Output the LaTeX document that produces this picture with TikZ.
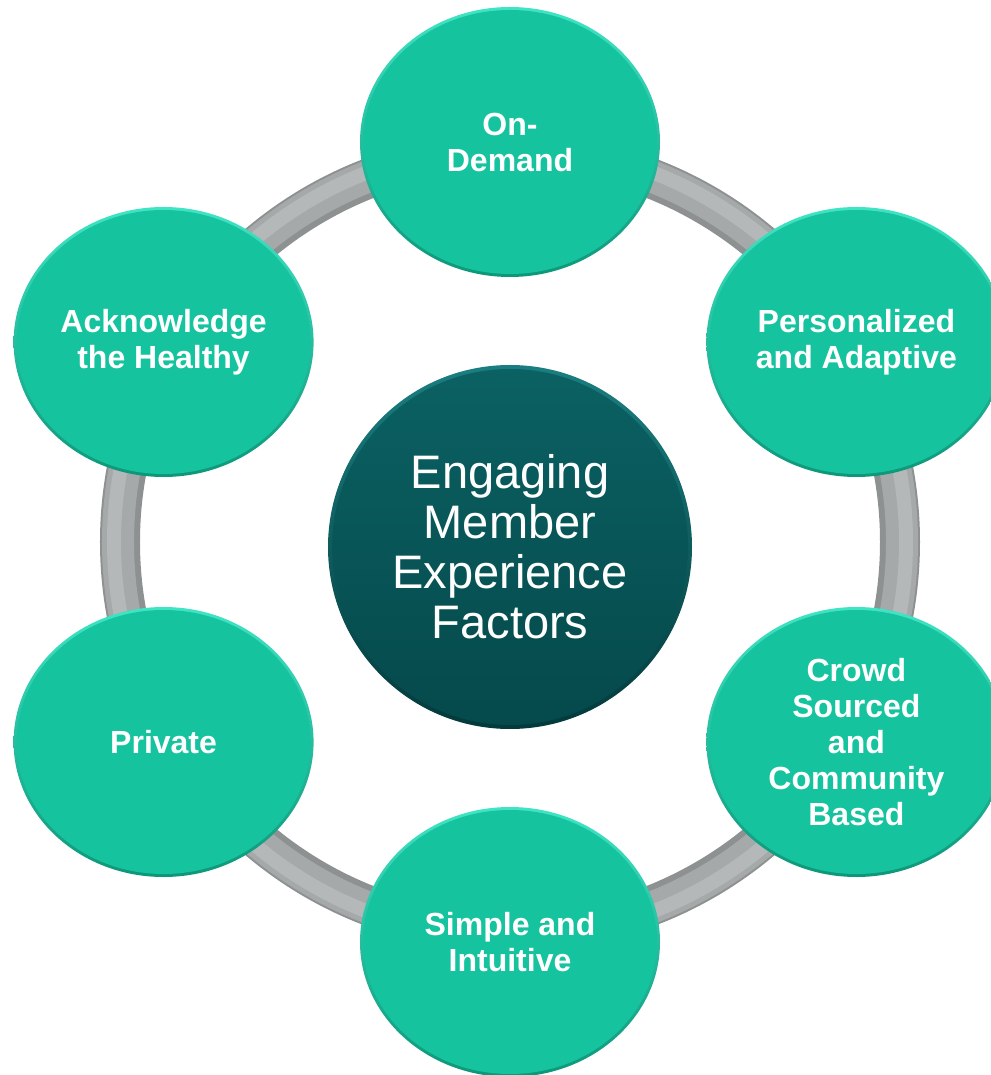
\documentclass[tikz,border=0pt]{standalone}
\usepackage{fontspec}
\setmainfont{Liberation Sans}
\usetikzlibrary{shapes.geometric}

\definecolor{factorgreen}{HTML}{15C39E}
\definecolor{factorlight}{HTML}{40E4C4}
\definecolor{factordark}{HTML}{0D9779}
\definecolor{coretop}{HTML}{0B6163}
\definecolor{corebottom}{HTML}{05494B}
\definecolor{corerimlight}{HTML}{1A7E80}
\definecolor{corerimdark}{HTML}{033A3C}
\definecolor{ringdark}{HTML}{8D9191}
\definecolor{ringgray}{HTML}{A5A9A9}
\definecolor{ringlight}{HTML}{B4B8B8}
\newcommand{\ringradius}{390pt}

\tikzset{
    factor/.style={ellipse, minimum width=300, minimum height=270, inner sep=0,
        top color=factorlight, bottom color=factordark,
        path picture={\fill[factorgreen] (path picture bounding box.center) ellipse (147pt and 132pt);},
        text=white, align=center, font=\bfseries\fontsize{32}{36}\selectfont},
    core/.style={circle, minimum size=364, inner sep=0,
        top color=corerimlight, bottom color=corerimdark,
        path picture={\shade[top color=coretop, bottom color=corebottom] (path picture bounding box.center) circle (178pt);},
        text=white, align=center, font=\fontsize{47}{50}\selectfont}
}

\begin{document}
\begin{tikzpicture}[x=1pt, y=1pt]
    \useasboundingbox (-510,-533) rectangle (480,542);
    \coordinate (hub) at (0,0);

    % grey tube behind the circles
    \draw[ringdark, line width=40] (hub) circle (\ringradius);
    \draw[ringgray, line width=32] (hub) circle (392pt);
    \draw[ringlight, line width=14] (hub) circle (396pt);

    \node[core] (engaging) at (0,-5) {Engaging\\Member\\Experience\\Factors};

    \node[factor] (ondemand) at (90:400) {On-\\Demand};
    \node[factor] (personal) at (30:400) {Personalized\\and Adaptive};
    \node[factor] (crowd) at (-30:400) {Crowd\\Sourced\\and\\Community\\Based};
    \node[factor] (simple) at (-90:400) {Simple and\\Intuitive};
    \node[factor] (private) at (210:400) {Private};
    \node[factor] (healthy) at (150:400) {Acknowledge\\the Healthy};

\end{tikzpicture}
\end{document}
